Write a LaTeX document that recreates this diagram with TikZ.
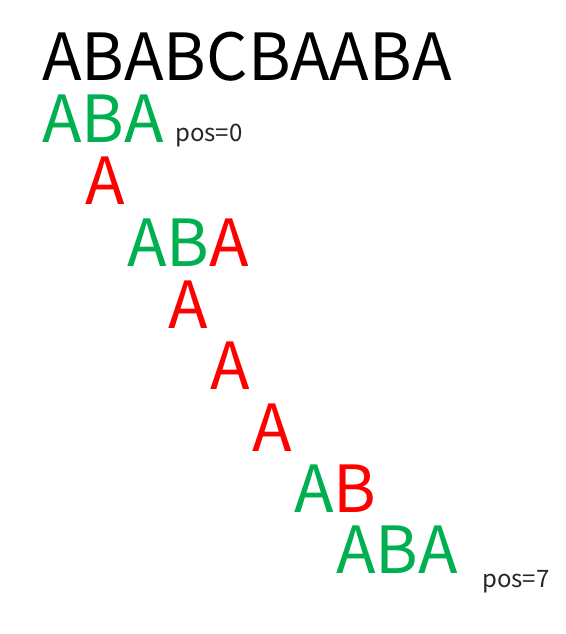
\documentclass[tikz,border=0pt]{standalone}
\usepackage{fontspec}
\setmainfont{Noto Sans CJK SC}
\usetikzlibrary{positioning}
\usepackage{xcolor}
\definecolor{hitgreen}{RGB}{0,176,80}
\definecolor{missred}{RGB}{255,0,0}

\begin{document}
\begin{tikzpicture}[
  x=1pt, y=-1pt,
  textrow/.style={anchor=base west, inner sep=0pt, font=\fontsize{65}{65}\selectfont},
  pattern/.style={textrow, hitgreen},
  note/.style={anchor=base west, inner sep=0pt, font=\fontsize{24}{24}\selectfont, black!85}
]
  \useasboundingbox (0,0) rectangle (565,634);

  \node[textrow] (text) at (42,80) {ABABCBAABA};

  \node[pattern] (p0) at (42,142)  {ABA};
  \node[pattern] (p1) at (85,204)  {\textcolor{missred}{A}};
  \node[pattern] (p2) at (127,266) {AB\textcolor{missred}{A}};
  \node[pattern] (p3) at (168,328) {\textcolor{missred}{A}};
  \node[pattern] (p4) at (210,389) {\textcolor{missred}{A}};
  \node[pattern] (p5) at (252,451) {\textcolor{missred}{A}};
  \node[pattern] (p6) at (294,512) {A\textcolor{missred}{B}};
  \node[pattern] (p7) at (336,573) {ABA};

  \node[note] (pos0) at (175,141) {pos=0};
  \node[note] (pos7) at (482,587) {pos=7};
\end{tikzpicture}
\end{document}
